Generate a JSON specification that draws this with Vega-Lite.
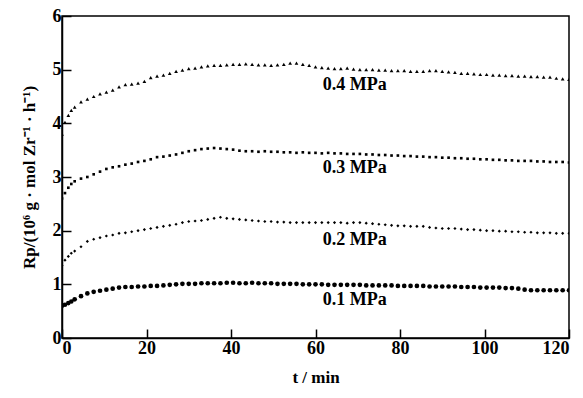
{
  "$schema": "https://vega.github.io/schema/vega-lite/v6.json",
  "autosize": {"type": "none"},
  "width": 507,
  "height": 322,
  "padding": {"left": 62, "top": 16, "right": 14, "bottom": 60},
  "background": "white",
  "config": {
    "view": {"stroke": "black", "strokeWidth": 1.5},
    "font": "Liberation Serif, Times New Roman, serif",
    "axis": {
      "labelFont": "Liberation Serif, Times New Roman, serif", "labelFontWeight": "bold", "labelFontSize": 18, "labelColor": "black",
      "titleFont": "Liberation Serif, Times New Roman, serif", "titleFontWeight": "bold", "titleFontSize": 17, "titleColor": "black",
      "domainColor": "black", "domainWidth": 1.5, "tickColor": "black", "tickWidth": 1.5, "tickSize": -9,
      "grid": false, "zindex": 1
    }
  },
  "datasets": {
    "series": [
      {"t":0,"a":3.80,"b":2.60,"c":1.35,"d":0.60},
      {"t":0.7,"a":4.02,"b":2.70,"c":1.45,"d":0.62},
      {"t":1.5,"a":4.15,"b":2.80,"c":1.52,"d":0.65},
      {"t":2.2,"a":4.24,"b":2.87,"c":1.58,"d":0.68},
      {"t":3,"a":4.30,"b":2.92,"c":1.62,"d":0.72},
      {"t":4.5,"a":4.40,"b":2.97,"c":1.70,"d":0.78},
      {"t":6,"a":4.45,"b":3.00,"c":1.80,"d":0.83},
      {"t":7.5,"a":4.50,"b":3.05,"c":1.84,"d":0.86},
      {"t":9,"a":4.55,"b":3.10,"c":1.87,"d":0.88},
      {"t":10.5,"a":4.58,"b":3.15,"c":1.90,"d":0.90},
      {"t":12,"a":4.62,"b":3.18,"c":1.92,"d":0.92},
      {"t":13.5,"a":4.68,"b":3.20,"c":1.95,"d":0.94},
      {"t":15,"a":4.72,"b":3.23,"c":1.96,"d":0.95},
      {"t":16.5,"a":4.73,"b":3.25,"c":1.98,"d":0.95},
      {"t":18,"a":4.75,"b":3.28,"c":2.00,"d":0.96},
      {"t":19.5,"a":4.78,"b":3.30,"c":2.02,"d":0.96},
      {"t":21,"a":4.85,"b":3.33,"c":2.04,"d":0.97},
      {"t":22.5,"a":4.88,"b":3.37,"c":2.06,"d":0.97},
      {"t":24,"a":4.90,"b":3.38,"c":2.08,"d":0.98},
      {"t":25.5,"a":4.93,"b":3.40,"c":2.10,"d":0.99},
      {"t":27,"a":4.97,"b":3.42,"c":2.12,"d":1.00},
      {"t":28.5,"a":4.99,"b":3.45,"c":2.15,"d":1.01},
      {"t":30,"a":5.02,"b":3.48,"c":2.17,"d":1.01},
      {"t":31.5,"a":5.03,"b":3.50,"c":2.18,"d":1.01},
      {"t":33,"a":5.05,"b":3.52,"c":2.19,"d":1.02},
      {"t":34.5,"a":5.07,"b":3.53,"c":2.21,"d":1.02},
      {"t":36,"a":5.08,"b":3.54,"c":2.23,"d":1.02},
      {"t":37.5,"a":5.08,"b":3.53,"c":2.25,"d":1.02},
      {"t":39,"a":5.09,"b":3.52,"c":2.23,"d":1.03},
      {"t":40.5,"a":5.10,"b":3.51,"c":2.22,"d":1.03},
      {"t":42,"a":5.10,"b":3.49,"c":2.21,"d":1.02},
      {"t":43.5,"a":5.11,"b":3.48,"c":2.20,"d":1.02},
      {"t":45,"a":5.10,"b":3.48,"c":2.19,"d":1.03},
      {"t":46.5,"a":5.09,"b":3.47,"c":2.18,"d":1.02},
      {"t":48,"a":5.09,"b":3.48,"c":2.17,"d":1.02},
      {"t":49.5,"a":5.08,"b":3.47,"c":2.17,"d":1.02},
      {"t":51,"a":5.09,"b":3.47,"c":2.16,"d":1.01},
      {"t":52.5,"a":5.10,"b":3.46,"c":2.16,"d":1.01},
      {"t":54,"a":5.12,"b":3.46,"c":2.15,"d":1.01},
      {"t":55.5,"a":5.12,"b":3.45,"c":2.15,"d":1.01},
      {"t":57,"a":5.10,"b":3.46,"c":2.15,"d":1.00},
      {"t":58.5,"a":5.08,"b":3.45,"c":2.15,"d":1.00},
      {"t":60,"a":5.05,"b":3.45,"c":2.15,"d":1.00},
      {"t":61.5,"a":5.04,"b":3.44,"c":2.15,"d":1.00},
      {"t":63,"a":5.03,"b":3.45,"c":2.15,"d":0.99},
      {"t":64.5,"a":5.02,"b":3.44,"c":2.15,"d":0.99},
      {"t":66,"a":5.02,"b":3.44,"c":2.15,"d":0.99},
      {"t":67.5,"a":5.03,"b":3.43,"c":2.14,"d":0.99},
      {"t":69,"a":5.01,"b":3.43,"c":2.15,"d":0.99},
      {"t":70.5,"a":5.00,"b":3.43,"c":2.15,"d":0.99},
      {"t":72,"a":5.00,"b":3.42,"c":2.14,"d":0.98},
      {"t":73.5,"a":5.00,"b":3.42,"c":2.13,"d":0.98},
      {"t":75,"a":4.99,"b":3.41,"c":2.12,"d":0.98},
      {"t":76.5,"a":4.99,"b":3.41,"c":2.11,"d":0.98},
      {"t":78,"a":4.98,"b":3.40,"c":2.10,"d":0.98},
      {"t":79.5,"a":4.98,"b":3.40,"c":2.09,"d":0.97},
      {"t":81,"a":4.98,"b":3.39,"c":2.09,"d":0.97},
      {"t":82.5,"a":4.97,"b":3.39,"c":2.08,"d":0.97},
      {"t":84,"a":4.97,"b":3.38,"c":2.08,"d":0.97},
      {"t":85.5,"a":4.97,"b":3.38,"c":2.08,"d":0.97},
      {"t":87,"a":4.98,"b":3.37,"c":2.06,"d":0.96},
      {"t":88.5,"a":4.98,"b":3.37,"c":2.05,"d":0.96},
      {"t":90,"a":4.97,"b":3.36,"c":2.04,"d":0.96},
      {"t":91.5,"a":4.96,"b":3.36,"c":2.04,"d":0.96},
      {"t":93,"a":4.95,"b":3.35,"c":2.04,"d":0.96},
      {"t":94.5,"a":4.93,"b":3.35,"c":2.03,"d":0.95},
      {"t":96,"a":4.93,"b":3.34,"c":2.02,"d":0.95},
      {"t":97.5,"a":4.92,"b":3.34,"c":2.02,"d":0.95},
      {"t":99,"a":4.91,"b":3.33,"c":2.01,"d":0.94},
      {"t":100.5,"a":4.91,"b":3.33,"c":2.00,"d":0.94},
      {"t":102,"a":4.90,"b":3.32,"c":2.00,"d":0.94},
      {"t":103.5,"a":4.90,"b":3.32,"c":1.99,"d":0.94},
      {"t":105,"a":4.89,"b":3.31,"c":1.99,"d":0.93},
      {"t":106.5,"a":4.89,"b":3.31,"c":1.98,"d":0.93},
      {"t":108,"a":4.88,"b":3.30,"c":1.98,"d":0.92},
      {"t":109.5,"a":4.88,"b":3.30,"c":1.97,"d":0.90},
      {"t":111,"a":4.87,"b":3.30,"c":1.97,"d":0.89},
      {"t":112.5,"a":4.87,"b":3.29,"c":1.96,"d":0.89},
      {"t":114,"a":4.86,"b":3.29,"c":1.96,"d":0.89},
      {"t":115.5,"a":4.86,"b":3.28,"c":1.96,"d":0.89},
      {"t":117,"a":4.84,"b":3.28,"c":1.95,"d":0.89},
      {"t":118.5,"a":4.83,"b":3.28,"c":1.95,"d":0.89},
      {"t":120,"a":4.82,"b":3.27,"c":1.95,"d":0.89}
    ],
    "labels": [
      {"t":69.3,"v":4.71,"label":"0.4 MPa"},
      {"t":69.3,"v":3.17,"label":"0.3 MPa"},
      {"t":69.3,"v":1.83,"label":"0.2 MPa"},
      {"t":69.3,"v":0.71,"label":"0.1 MPa"}
    ]
  },
  "layer": [
    {
      "data": {"name": "series"},
      "transform": [{"fold": ["a", "b", "c", "d"], "as": ["s", "v"]}],
      "mark": {"type": "point", "filled": true, "opacity": 1, "color": "black", "clip": true},
      "encoding": {
        "x": {"field": "t", "type": "quantitative", "scale": {"domain": [0, 120]},
              "axis": {"values": [0, 20, 40, 60, 80, 100, 120], "format": "d", "title": "t / min", "labelPadding": 10, "titlePadding": 12}},
        "y": {"field": "v", "type": "quantitative", "scale": {"domain": [0, 6]},
              "axis": {"values": [0, 1, 2, 3, 4, 5, 6], "format": "d", "title": "Rp/(10⁶ g · mol Zr⁻¹ · h⁻¹)", "labelPadding": 10, "titlePadding": 14}},
        "shape": {"field": "s", "type": "nominal", "legend": null,
                  "scale": {"domain": ["a", "b", "c", "d"], "range": ["triangle-up", "square", "diamond", "circle"]}},
        "size": {"field": "s", "type": "nominal", "legend": null,
                 "scale": {"type": "ordinal", "domain": ["a", "b", "c", "d"], "range": [14, 7, 10, 22]}}
      }
    },
    {
      "data": {"name": "labels"},
      "mark": {"type": "text", "font": "Liberation Serif, Times New Roman, serif", "fontWeight": "bold", "fontSize": 18, "color": "black"},
      "encoding": {
        "x": {"field": "t", "type": "quantitative"},
        "y": {"field": "v", "type": "quantitative"},
        "text": {"field": "label"}
      }
    }
  ]
}
